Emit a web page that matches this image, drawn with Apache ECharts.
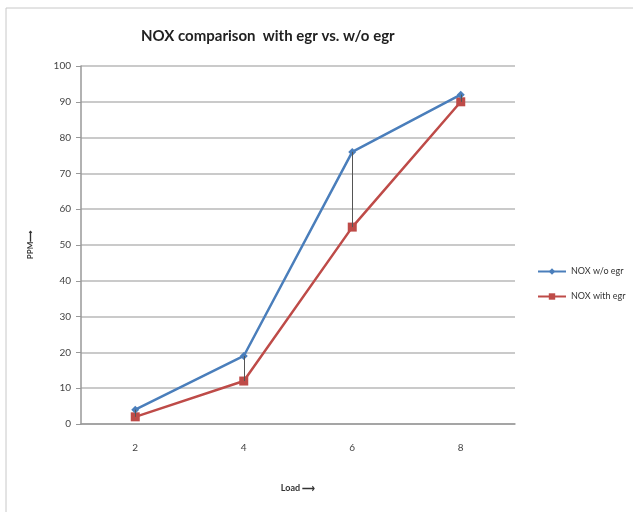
<!DOCTYPE html>
<html><head><meta charset="utf-8">
<script src="https://cdn.jsdelivr.net/npm/echarts@6/dist/echarts.min.js"></script>
<style>html,body{margin:0;padding:0;background:#fff}#c{width:633px;height:512px}</style>
</head><body><div id="c"></div>
<script>
const categories = ['2', '4', '6', '8'];
const noxWithoutEgr = [4, 19, 76, 92];
const noxWithEgr = [2, 12, 55, 90];
const yTicks = {min: 0, max: 100, interval: 10};

const dropLines = categories.map((c, i) => [
  {coord: [i, noxWithoutEgr[i]]},
  {coord: [i, noxWithEgr[i]]}
]);

const F = 'Lato, Open Sans, sans-serif';
const chart = echarts.init(document.getElementById('c'));
chart.setOption({
  backgroundColor: '#fff',
  animation: false,
  title: {
    text: 'NOX comparison  with egr vs. w/o egr',
    left: 136, top: 24,
    textStyle: {fontFamily: F, fontSize: 15, fontWeight: 'bold', color: '#222'}
  },
  graphic: [
    {type: 'rect', shape: {x: 6, y: 8, width: 640, height: 520}, style: {fill: 'none', stroke: '#c8c8c8', lineWidth: 1}}
  ],
  legend: {
    orient: 'vertical', left: 532, top: 262, itemGap: 16,
    itemWidth: 28, itemHeight: 8,
    textStyle: {fontFamily: F, fontSize: 9, color: '#333'},
    data: ['NOX w/o egr', 'NOX with egr']
  },
  grid: {left: 81, right: 118, top: 66, bottom: 88},
  xAxis: {
    type: 'category', data: categories, boundaryGap: true,
    name: 'Load ⟶', nameLocation: 'middle', nameGap: 60,
    nameTextStyle: {fontFamily: F, fontSize: 9, fontWeight: 'bold', color: '#333'},
    axisLine: {lineStyle: {color: '#999', width: 1.5}},
    axisTick: {show: false},
    axisLabel: {margin: 19, fontFamily: F, fontSize: 10, color: '#444'}
  },
  yAxis: {
    type: 'value', min: yTicks.min, max: yTicks.max, interval: yTicks.interval,
    name: 'PPM⟶', nameLocation: 'middle', nameGap: 47, nameRotate: 90,
    nameTextStyle: {fontFamily: F, fontSize: 8, fontWeight: 'bold', color: '#333'},
    axisLine: {show: true, lineStyle: {color: '#999', width: 1.5}},
    axisTick: {show: true, inside: false, length: 5, lineStyle: {color: '#999'}},
    axisLabel: {margin: 10, fontFamily: F, fontSize: 10, color: '#444'},
    splitLine: {lineStyle: {color: '#b8b8b8', width: 1.5}}
  },
  series: [
    {
      name: 'NOX w/o egr', type: 'line', data: noxWithoutEgr,
      symbol: 'diamond', symbolSize: 8,
      itemStyle: {color: '#4a7ebb'},
      lineStyle: {color: '#4a7ebb', width: 2.5},
      markLine: {
        silent: true, symbol: 'none', label: {show: false},
        lineStyle: {color: '#555', width: 1, type: 'solid'},
        data: dropLines
      },
      z: 3
    },
    {
      name: 'NOX with egr', type: 'line', data: noxWithEgr,
      symbol: 'rect', symbolSize: 9,
      itemStyle: {color: '#be4b48'},
      lineStyle: {color: '#be4b48', width: 2.5},
      z: 2
    }
  ]
});
</script></body></html>
